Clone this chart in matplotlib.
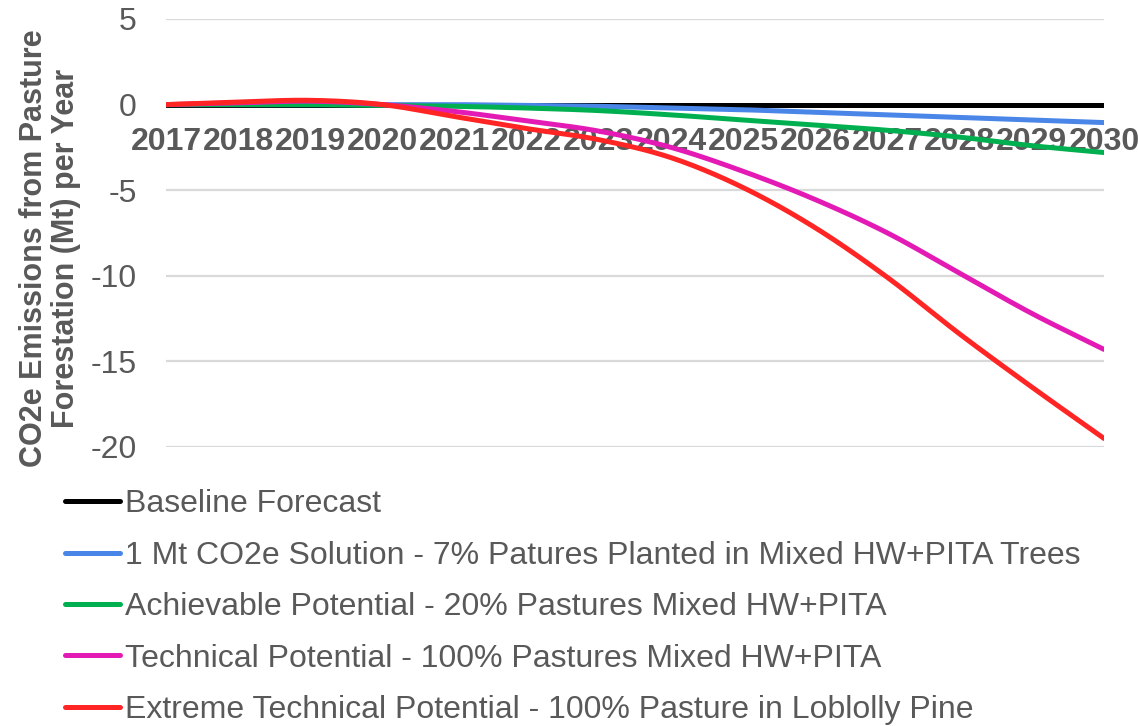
import numpy as np
import matplotlib
matplotlib.use("Agg")
import matplotlib.pyplot as plt

plt.rcParams['font.family'] = ['Liberation Sans', 'DejaVu Sans']

years = [2017, 2018, 2019, 2020, 2021, 2022, 2023, 2024, 2025, 2026, 2027, 2028, 2029, 2030]
year_labels = [str(y) for y in years]

baseline = [0, 0, 0, 0, 0, 0, 0, 0, 0, 0, 0, 0, 0, 0]
one_mt = [0, 0, 0, 0, 0, -0.05, -0.1, -0.2, -0.3, -0.45, -0.6, -0.75, -0.9, -1.05]
achievable = [0, 0, 0, -0.05, -0.1, -0.2, -0.35, -0.6, -0.9, -1.2, -1.5, -1.9, -2.4, -2.8]
technical = [0, 0.1, 0.2, 0, -0.4, -0.95, -1.55, -2.5, -3.9, -5.55, -7.5, -9.85, -12.2, -14.3]
extreme = [0, 0.15, 0.25, 0, -0.7, -1.4, -2.05, -3.1, -4.85, -7.2, -10.1, -13.4, -16.5, -19.5]

series_names = [
    "Baseline Forecast",
    "1 Mt CO2e Solution - 7% Patures Planted in Mixed HW+PITA Trees",
    "Achievable Potential - 20% Pastures Mixed HW+PITA",
    "Technical Potential - 100% Pastures Mixed HW+PITA",
    "Extreme Technical Potential - 100% Pasture in Loblolly Pine",
]
series_values = [baseline, one_mt, achievable, technical, extreme]
series_colors = ["#000000", "#4A86E8", "#00B050", "#E31BB4", "#FF2525"]

y_ticks = [5, 0, -5, -10, -15, -20]


def smooth(x, y, n=20):
    """Catmull-Rom curve through the points, like a smoothed line chart."""
    x = np.asarray(x, float)
    y = np.asarray(y, float)
    px = np.concatenate([[2 * x[0] - x[1]], x, [2 * x[-1] - x[-2]]])
    py = np.concatenate([[2 * y[0] - y[1]], y, [2 * y[-1] - y[-2]]])
    xs, ys = [], []
    t = np.linspace(0, 1, n, endpoint=False)
    for i in range(1, len(px) - 2):
        p0, p1, p2, p3 = (np.array([px[j], py[j]]) for j in (i - 1, i, i + 1, i + 2))
        tt = t[:, None]
        pts = 0.5 * ((2 * p1) + (-p0 + p2) * tt + (2 * p0 - 5 * p1 + 4 * p2 - p3) * tt ** 2
                     + (-p0 + 3 * p1 - 3 * p2 + p3) * tt ** 3)
        xs.extend(pts[:, 0])
        ys.extend(pts[:, 1])
    xs.append(x[-1])
    ys.append(y[-1])
    return np.array(xs), np.array(ys)


fig = plt.figure(figsize=(11.38, 7.26), dpi=100)
ax = fig.add_axes([166 / 1138, 1 - 447 / 726, (1104 - 166) / 1138, (447 - 19) / 726])

idx = np.arange(len(years))
handles = []
for name, vals, col in zip(series_names, series_values, series_colors):
    sx, sy = smooth(idx, vals)
    h, = ax.plot(sx, sy, color=col, lw=3.6, solid_capstyle='round', label=name, zorder=3)
    handles.append(h)

ax.set_xlim(0, len(years) - 1)
ax.set_ylim(-20, 5)
ax.set_yticks(y_ticks)
ax.set_yticklabels([str(v) for v in y_ticks])
ax.grid(axis='y', color='#D9D9D9', lw=1.6, zorder=0)
ax.set_axisbelow(True)

for s in ['top', 'right', 'left']:
    ax.spines[s].set_visible(False)
ax.spines['bottom'].set_position(('data', 0))
ax.spines['bottom'].set_color('none')

ax.set_xticks(idx)
ax.set_xticklabels(year_labels, fontsize=23, fontweight='bold', color='#595959')
ax.tick_params(axis='x', length=0, pad=16)
ax.tick_params(axis='y', length=0, pad=21, labelsize=23, labelcolor='#595959')

fig.text(0.0443, 0.658, "CO2e Emissions from Pasture\nForestation (Mt) per Year",
         rotation=90, ha='center', va='center', fontsize=22, fontweight='bold',
         color='#595959', linespacing=1.09)

leg = fig.legend(handles=handles, labels=series_names, loc='upper left',
                 bbox_to_anchor=(0.057, 0.326), frameon=False, fontsize=23,
                 labelcolor='#595959', handlelength=1.72, handletextpad=0.15,
                 labelspacing=0.67, borderaxespad=0, borderpad=0)

fig.savefig("out.png", dpi=100)
